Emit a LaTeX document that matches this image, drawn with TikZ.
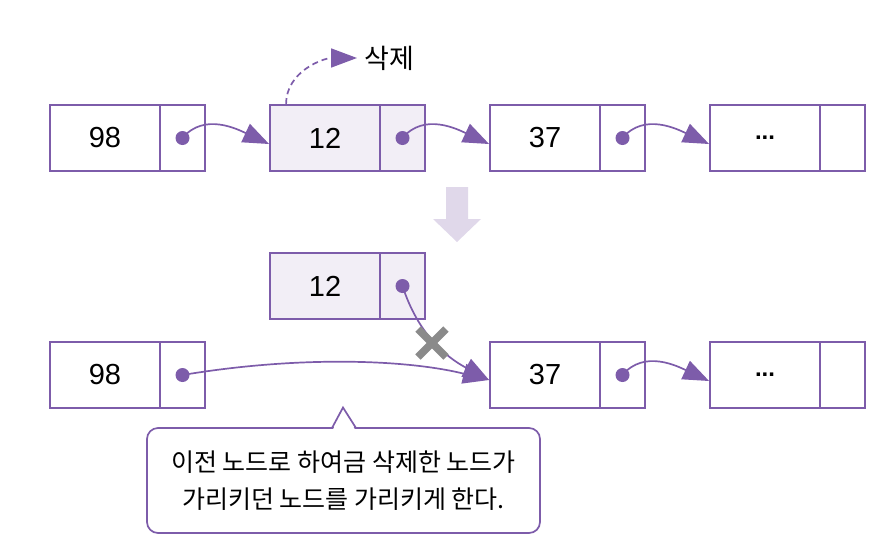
\documentclass[tikz,border=0pt]{standalone}
\usepackage{fontspec}
\setmainfont{Liberation Sans}
\newfontfamily\kr{Noto Sans CJK KR}
\usetikzlibrary{arrows.meta}
\definecolor{pur}{RGB}{125,92,170}
\definecolor{lav}{RGB}{242,238,246}
\definecolor{downc}{RGB}{224,216,234}
\definecolor{xgray}{RGB}{138,138,138}
\tikzset{
  cell/.style={draw=pur, line width=1.8pt, minimum height=66pt, inner sep=0pt, font=\fontsize{29}{33}\selectfont},
  datacell/.style={cell, minimum width=110pt},
  ptrcell/.style={cell, minimum width=45pt},
  hl/.style={fill=lav},
  link/.style={draw=pur, line width=1.7pt, -{Triangle[length=26pt,width=20pt]}},
  dot/.style={fill=pur},
  xmark/.style={draw=xgray, line width=7.5pt},
}
\begin{document}
\begin{tikzpicture}[x=1pt,y=1pt]
\useasboundingbox (0,0) rectangle (896,-558);
% top row
\node[datacell] (d1) at (105,-138) {98};
\node[ptrcell] (p1) at (182.5,-138) {};
\node[datacell,hl] (d2) at (325,-138) {12};
\node[ptrcell,hl] (p2) at (402.5,-138) {};
\node[datacell] (d3) at (545,-138) {37};
\node[ptrcell] (p3) at (622.5,-138) {};
\node[datacell, font=\fontsize{24}{28}\selectfont] (d4) at (765,-138) {\textbf{...}};
\node[ptrcell] (p4) at (842.5,-138) {};
\fill[dot] (p1.center) circle (7pt);
\fill[dot] (p2.center) circle (7pt);
\fill[dot] (p3.center) circle (7pt);
\draw[link] (p1.center) to[out=50,in=155] ([yshift=-6pt]d2.west);
\draw[link] (p2.center) to[out=50,in=155] ([yshift=-6pt]d3.west);
\draw[link] (p3.center) to[out=50,in=155] ([yshift=-6pt]d4.west);
% delete label
\node[anchor=west, inner sep=0pt, font=\kr\fontsize{27}{30}\selectfont] (del) at (364,-58) {삭제};
\coordinate (ds) at ([xshift=17pt]d2.north west);
\draw[draw=pur, line width=1.7pt, dash pattern=on 6pt off 4pt, -{Triangle[length=26pt,width=19pt]}] (ds) to[out=90,in=180] ([xshift=-7pt]del.west);
% down arrow
\fill[downc] (446,-187) -- (468,-187) -- (468,-219) -- (481,-219) -- (457,-242) -- (433,-219) -- (446,-219) -- cycle;
% second part
\node[datacell,hl] (d5) at (325,-286) {12};
\node[ptrcell,hl] (p5) at (402.5,-286) {};
\node[datacell] (d6) at (105,-375) {98};
\node[ptrcell] (p6) at (182.5,-375) {};
\node[datacell] (d7) at (545,-375) {37};
\node[ptrcell] (p7) at (622.5,-375) {};
\node[datacell, font=\fontsize{24}{28}\selectfont] (d8) at (765,-375) {\textbf{...}};
\node[ptrcell] (p8) at (842.5,-375) {};
\fill[dot] (p5.center) circle (7pt);
\fill[dot] (p6.center) circle (7pt);
\fill[dot] (p7.center) circle (7pt);
\draw[link] (p5.center) to[out=-72,in=152] ([yshift=-5pt]d7.west);
\draw[link] (p6.center) .. controls +(120,20) and +(-80,20) .. ([yshift=-5pt]d7.west);
\draw[link] (p7.center) to[out=50,in=155] ([yshift=-6pt]d8.west);
\coordinate (xm) at (432,-343);
\draw[xmark] ([shift={(-14,-14)}]xm) -- ([shift={(14,14)}]xm);
\draw[xmark] ([shift={(-14,14)}]xm) -- ([shift={(14,-14)}]xm);
% callout
\node[draw=pur, line width=1.7pt, rounded corners=11pt, fill=white, minimum width=393pt, minimum height=105pt, inner sep=0pt,
      align=center, font=\kr\fontsize{25}{37}\selectfont] (call) at (343.5,-480.5)
      {이전 노드로 하여금 삭제한 노드가\\가리키던 노드를 가리키게 한다.};
\fill[white] (333,-429.5) -- (343,-408) -- (355,-429.5) -- cycle;
\draw[draw=pur, line width=1.7pt, line join=miter] (332,-428) -- (343,-407.5) -- (356,-428);
\end{tikzpicture}
\end{document}
